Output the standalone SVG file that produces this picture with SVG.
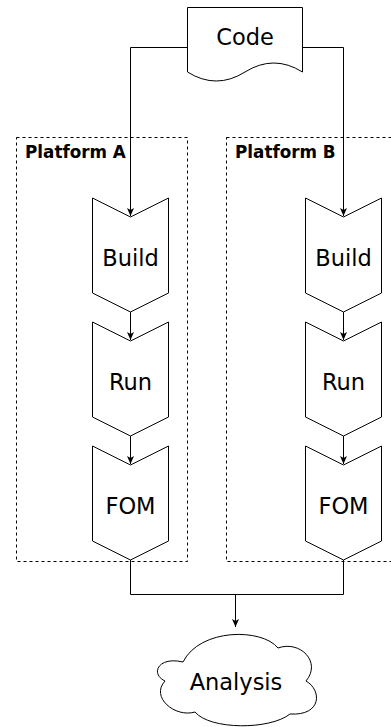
<svg xmlns="http://www.w3.org/2000/svg" width="391" height="727" viewBox="0 0 391 727">
  <style>
    .shape { fill: #ffffff; stroke: #000000; stroke-width: 1; }
    .lane { fill: none; stroke: #000000; stroke-width: 1; stroke-dasharray: 3 3; }
    .edge { fill: none; stroke: #000000; stroke-width: 1; }
    .label { font-family: "DejaVu Sans", Verdana, sans-serif; font-size: 22.5px; fill: #000000; text-anchor: middle; }
    .title { font-family: "DejaVu Sans", Verdana, sans-serif; font-size: 16.8px; font-weight: bold; fill: #000000; }
  </style>
  <defs>
    <marker id="arrow" viewBox="0 0 8 8" refX="8" refY="4" markerWidth="8" markerHeight="8" markerUnits="userSpaceOnUse" orient="auto">
      <path d="M0,0.5 L8,4 L0,7.5 L2,4 Z" fill="#000000"/>
    </marker>
    <!-- chevron step: notched top, pointed bottom -->
    <path id="step" d="M0,0 L38,19 L76,0 L76,95 L38,114 L0,95 Z"/>
  </defs>

  <!-- platform lanes -->
  <g id="platform-a">
    <rect class="lane" x="16.5" y="137.5" width="171" height="424"/>
    <text class="title" x="25" y="158">Platform A</text>
  </g>
  <g id="platform-b">
    <rect class="lane" x="226.5" y="137.5" width="171" height="424"/>
    <text class="title" x="235" y="158">Platform B</text>
  </g>

  <!-- connectors -->
  <g id="connectors">
    <path class="edge" d="M187,47.5 H130.5 V216" marker-end="url(#arrow)"/>
    <path class="edge" d="M302,47.5 H343.5 V216" marker-end="url(#arrow)"/>
    <path class="edge" d="M130.5,312 V340" marker-end="url(#arrow)"/>
    <path class="edge" d="M130.5,436 V464" marker-end="url(#arrow)"/>
    <path class="edge" d="M343.5,312 V340" marker-end="url(#arrow)"/>
    <path class="edge" d="M343.5,436 V464" marker-end="url(#arrow)"/>
    <path class="edge" d="M130.5,560 V594.5 H343.5 V560"/>
    <path class="edge" d="M235.5,594.5 V627" marker-end="url(#arrow)"/>
  </g>

  <!-- source document -->
  <g id="code">
    <path class="shape" d="M187.5,7.5 H302.5 V72 Q273.75,54 245,72 Q216.25,90 187.5,72 Z"/>
    <text class="label" x="245" y="45">Code</text>
  </g>

  <!-- Platform A pipeline -->
  <g id="build-a">
    <use href="#step" class="shape" x="92.5" y="198"/>
    <text class="label" x="130.5" y="266">Build</text>
  </g>
  <g id="run-a">
    <use href="#step" class="shape" x="92.5" y="322"/>
    <text class="label" x="130.5" y="390">Run</text>
  </g>
  <g id="fom-a">
    <use href="#step" class="shape" x="92.5" y="446"/>
    <text class="label" x="130.5" y="514">FOM</text>
  </g>

  <!-- Platform B pipeline -->
  <g id="build-b">
    <use href="#step" class="shape" x="305.5" y="198"/>
    <text class="label" x="343.5" y="266">Build</text>
  </g>
  <g id="run-b">
    <use href="#step" class="shape" x="305.5" y="322"/>
    <text class="label" x="343.5" y="390">Run</text>
  </g>
  <g id="fom-b">
    <use href="#step" class="shape" x="305.5" y="446"/>
    <text class="label" x="343.5" y="514">FOM</text>
  </g>

  <!-- results cloud -->
  <g id="analysis">
    <path class="shape" d="M183,662 C158,656 150,674 165,681 C150,697 175,718 195,712 C210,730 270,730 290,714 C322,716 322,690 306,681 C322,662 300,640 278,648 C262,628 200,628 183,662 Z"/>
    <text class="label" x="236" y="690">Analysis</text>
  </g>
</svg>
